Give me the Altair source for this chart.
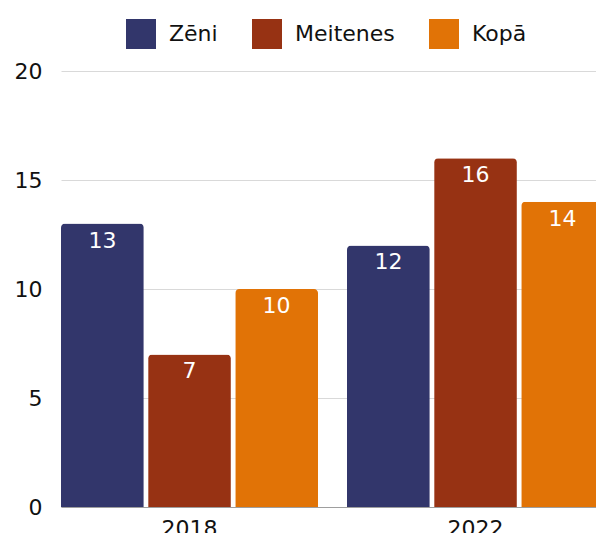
import altair as alt
import pandas as pd

years = ["2018", "2022"]
groups = ["Zēni", "Meitenes", "Kopā"]
zeni = [13, 12]
meitenes = [7, 16]
kopa = [10, 14]
colors = ["#32366b", "#973213", "#e17306"]

rows = []
for i, y in enumerate(years):
    for g, vals in zip(groups, [zeni, meitenes, kopa]):
        rows.append({"Gads": y, "Grupa": g, "Vērtība": vals[i]})
df = pd.DataFrame(rows)

FONT = "DejaVu Sans"

x = alt.X("Gads:N", sort=years, title=None,
          scale=alt.Scale(paddingInner=0.1014, paddingOuter=0),
          axis=alt.Axis(labelAngle=0, labelFontSize=22, labelColor="#111111",
                        labelFont=FONT, labelBaseline="alphabetic",
                        labelPadding=28, ticks=False,
                        domain=True, domainColor="#9e9e9e", domainWidth=1))
xo = alt.XOffset("Grupa:N", sort=groups,
                 scale=alt.Scale(paddingInner=0.05, paddingOuter=0))

bars = alt.Chart(df).mark_bar(cornerRadiusTopLeft=4, cornerRadiusTopRight=4).encode(
    x=x,
    xOffset=xo,
    y=alt.Y("Vērtība:Q", title=None,
            scale=alt.Scale(domain=[0, 20]),
            axis=alt.Axis(values=[0, 5, 10, 15, 20], labelFontSize=22,
                          labelColor="#111111", labelFont=FONT, labelPadding=19,
                          ticks=False, domain=False, gridColor="#d9d9d9",
                          gridWidth=1.2)),
    color=alt.Color("Grupa:N", sort=groups,
                    scale=alt.Scale(domain=groups, range=colors),
                    legend=alt.Legend(title=None, orient="none", legendX=65,
                                      legendY=-52, direction="horizontal",
                                      symbolType="square", symbolSize=900,
                                      symbolStrokeWidth=0, labelFontSize=22,
                                      labelFont=FONT, labelColor="#111111",
                                      labelOffset=13, columnPadding=34,
                                      padding=0, symbolOpacity=1)),
)

labels = alt.Chart(df).mark_text(baseline="alphabetic", dy=24, color="white",
                                 fontSize=22, font=FONT).encode(
    x=alt.X("Gads:N", sort=years),
    xOffset=xo,
    y=alt.Y("Vērtība:Q"),
    text=alt.Text("Vērtība:Q"),
)

chart = (bars + labels).properties(
    width=543, height=436,
    autosize=alt.AutoSizeParams(type="none"),
    padding={"left": 53, "top": 63, "right": -8, "bottom": 32},
).configure_view(stroke=None)

chart.save("out.html", embed_options={"renderer": "svg", "actions": False})
